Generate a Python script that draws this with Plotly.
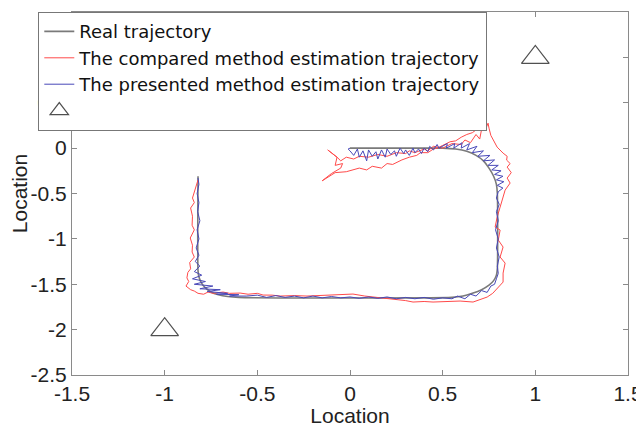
import plotly.graph_objects as go

# Real trajectory
real_x = [-0.82, -0.82, -0.815, -0.80, -0.78, -0.75, -0.71, -0.66, -0.60, 0.55, 0.61, 0.66, 0.71, 0.75, 0.775, 0.79, 0.795,
          0.795, 0.79, 0.775, 0.75, 0.72, 0.68, 0.63, 0.57, 0.50, 0.44, 0.0]
real_y = [-0.31, -1.35, -1.42, -1.49, -1.54, -1.585, -1.615, -1.635, -1.645, -1.645, -1.63, -1.60, -1.56, -1.51, -1.46, -1.40, -1.33,
          -0.50, -0.40, -0.31, -0.22, -0.14, -0.08, -0.035, -0.01, 0.0, 0.0, 0.0]

# Compared method estimation trajectory
red_x = [-0.82, -0.835, -0.85, -0.84, -0.86, -0.85, -0.852, -0.84, -0.862, -0.85, -0.852, -0.84, -0.865, -0.86, -0.875,
         -0.88, -0.87, -0.885, -0.86, -0.84, -0.82, -0.79, -0.766, -0.74, -0.712, -0.685, -0.65, -0.593, -0.55, -0.50,
         -0.469, -0.42, -0.377, -0.30, -0.232, -0.17, -0.124, -0.05, 0.016, 0.08, 0.13, 0.178, 0.25, 0.30, 0.34,
         0.40, 0.448, 0.52, 0.594, 0.664, 0.70, 0.74, 0.77, 0.794, 0.815, 0.826, 0.826, 0.837, 0.81, 0.826, 0.80,
         0.81, 0.783, 0.794, 0.81, 0.826, 0.837, 0.864, 0.848, 0.87, 0.848, 0.864, 0.845, 0.848, 0.826, 0.794, 0.772,
         0.76, 0.75, 0.745, 0.73, 0.715, 0.70, 0.68, 0.65, 0.62, 0.60, 0.55, 0.50, 0.45, 0.42, 0.40, 0.35, 0.32,
         0.30, 0.25, 0.20, 0.15, 0.10, 0.05, 0.02, -0.02, -0.05, -0.07, -0.12, -0.07, -0.08, -0.04, -0.05, -0.10,
         -0.15, -0.08, -0.02, 0.05, 0.09, 0.12, 0.17, 0.20, 0.23, 0.28, 0.32, 0.36, 0.38, 0.42, 0.45, 0.47, 0.50,
         0.54, 0.57, 0.60, 0.63, 0.66, 0.68, 0.70, 0.72]
red_y = [-0.35, -0.45, -0.55, -0.60, -0.66, -0.75, -0.85, -0.90, -0.99, -1.07, -1.145, -1.20, -1.26, -1.33, -1.37,
         -1.43, -1.47, -1.52, -1.56, -1.575, -1.60, -1.61, -1.586, -1.60, -1.597, -1.586, -1.60, -1.597, -1.61, -1.60,
         -1.619, -1.62, -1.63, -1.625, -1.63, -1.625, -1.619, -1.615, -1.608, -1.63, -1.64, -1.652, -1.665, -1.68, -1.696,
         -1.69, -1.696, -1.69, -1.685, -1.696, -1.67, -1.641, -1.60, -1.542, -1.50, -1.476, -1.377, -1.267, -1.20, -1.09, -1.013,
         -0.903, -0.87, -0.76, -0.65, -0.54, -0.463, -0.385, -0.33, -0.27, -0.209, -0.17, -0.132, -0.09, -0.055, 0.011, 0.088,
         0.14, 0.22, 0.275, 0.20, 0.26, 0.10, 0.15, 0.06, 0.09, 0.04, 0.05, 0.0, 0.02, -0.03, -0.01, -0.05, -0.03,
         -0.06, -0.05, -0.09, -0.07, -0.10, -0.09, -0.12, -0.10, -0.14, -0.10, -0.02, -0.10, -0.19, -0.17, -0.22, -0.28,
         -0.36, -0.27, -0.26, -0.22, -0.24, -0.20, -0.22, -0.17, -0.18, -0.13, -0.10, -0.08, -0.05, -0.05, -0.01, 0.0, 0.03,
         0.07, 0.08, 0.12, 0.15, 0.17, 0.20, 0.22, 0.26]

# Presented method estimation trajectory
blue_x = [-0.82, -0.815, -0.825, -0.815, -0.822, -0.81, -0.825, -0.815, -0.83, -0.815, -0.835, -0.81,
          -0.84, -0.80, -0.85, -0.78, -0.84, -0.74, -0.81, -0.70, -0.77, -0.66, -0.72, -0.60, -0.65, -0.56,
          -0.50, -0.45, -0.40, -0.35, -0.30, -0.25, -0.20, -0.15, -0.10, -0.05, 0.0, 0.05, 0.10, 0.15, 0.20,
          0.25, 0.30, 0.35, 0.40, 0.45, 0.50, 0.55, 0.58, 0.62, 0.65, 0.68, 0.71, 0.74, 0.76, 0.78, 0.79, 0.80,
          0.795, 0.805, 0.79, 0.80, 0.785, 0.80, 0.79, 0.805, 0.79,
          0.80, 0.825, 0.795, 0.83, 0.79, 0.825, 0.78, 0.815, 0.765, 0.80, 0.745, 0.78, 0.72, 0.755, 0.69, 0.72,
          0.66, 0.685, 0.63, 0.645, 0.60, 0.605, 0.56, 0.565, 0.52, 0.525,
          0.48, 0.47, 0.45, 0.43, 0.42, 0.40, 0.385, 0.37, 0.35, 0.34, 0.32, 0.30, 0.29, 0.27, 0.25, 0.24,
          0.22, 0.20, 0.19, 0.17, 0.15, 0.14, 0.12, 0.10, 0.09, 0.07, 0.05, 0.04, 0.02, 0.0, -0.01, 0.0]
blue_y = [-0.33, -0.40, -0.50, -0.60, -0.70, -0.80, -0.90, -1.00, -1.10, -1.18, -1.25, -1.30,
          -1.36, -1.40, -1.44, -1.47, -1.50, -1.52, -1.55, -1.56, -1.58, -1.60, -1.61, -1.615, -1.63, -1.63,
          -1.62, -1.645, -1.625, -1.645, -1.63, -1.65, -1.63, -1.65, -1.635, -1.65, -1.64, -1.655, -1.64, -1.655, -1.64,
          -1.66, -1.645, -1.66, -1.645, -1.665, -1.65, -1.66, -1.63, -1.66, -1.61, -1.63, -1.57, -1.59, -1.52, -1.50, -1.44, -1.38,
          -1.30, -1.20, -1.10, -1.00, -0.90, -0.80, -0.70, -0.62, -0.55,
          -0.48, -0.44, -0.41, -0.37, -0.35, -0.31, -0.29, -0.25, -0.24, -0.19, -0.19, -0.13, -0.14, -0.08, -0.09, -0.03,
          -0.05, 0.02, -0.02, 0.05, 0.0, 0.06, 0.0, 0.05, 0.0, 0.05,
          0.0, 0.04, -0.02, 0.02, -0.04, 0.0, -0.06, -0.01, -0.05, 0.0, -0.08, -0.02, -0.06, 0.0, -0.09, -0.03,
          -0.07, -0.01, -0.10, -0.02, -0.12, -0.04, -0.09, -0.02, -0.14, -0.03, -0.10, -0.01, -0.08, -0.03, -0.01, 0.0]

# Reference nodes (triangles)
node_x = [1, -1]
node_y = [1, -2]

series_names = ["Real trajectory", "The compared method estimation trajectory",
                "The presented method estimation trajectory", " "]

x_ticks = [-1.5, -1, -0.5, 0, 0.5, 1, 1.5]
y_ticks = [-2.5, -2, -1.5, -1, -0.5, 0, 0.5, 1, 1.5]

fig = go.Figure()
fig.add_trace(go.Scatter(x=real_x, y=real_y, mode="lines", name=series_names[0],
                         line=dict(color="#7a7a7a", width=1.6, shape="spline", smoothing=0.6)))
fig.add_trace(go.Scatter(x=red_x, y=red_y, mode="lines", name=series_names[1],
                         line=dict(color="#ff4a4a", width=1)))
fig.add_trace(go.Scatter(x=blue_x, y=blue_y, mode="lines", name=series_names[2],
                         line=dict(color="#4848b8", width=1)))
fig.add_trace(go.Scatter(x=node_x, y=node_y, mode="markers", name=series_names[3],
                         marker=dict(symbol="triangle-up-open", size=24, color="#505050",
                                     line=dict(width=1.2, color="#505050"))))

font_family = "Liberation Sans, Arial, sans-serif"
axis_common = dict(showgrid=False, zeroline=False, showline=True, linecolor="#8a8a8a", linewidth=1.2,
                   mirror="allticks", ticks="inside", ticklen=5, tickcolor="#8a8a8a", automargin=False,
                   tickfont=dict(family=font_family, size=21, color="#222"))

# The page body adds an 8px offset, so the figure is sized to fit the 644x427 window.
fig.update_layout(
    width=636, height=419,
    margin=dict(l=64, r=16, t=4, b=52),
    plot_bgcolor="white", paper_bgcolor="white",
    font=dict(family=font_family, size=21, color="#222"),
    xaxis=dict(range=[-1.5, 1.5], tickvals=x_ticks, ticktext=[f"{v:g}" for v in x_ticks],
               title=dict(text="Location", font=dict(size=21), standoff=0), **axis_common),
    yaxis=dict(range=[-2.5, 1.5], tickvals=y_ticks, ticktext=[f"{v:g}" for v in y_ticks],
               title=dict(text="Location", font=dict(size=21), standoff=0), **axis_common),
    legend=dict(x=-0.061, y=1.0, xanchor="left", yanchor="top", bgcolor="white",
                bordercolor="#777", borderwidth=1.2,
                font=dict(family="DejaVu Sans, Liberation Sans, sans-serif", size=18, color="#111"),
                itemwidth=30, tracegroupgap=0),
    showlegend=True,
)

fig.write_html("out.html")
